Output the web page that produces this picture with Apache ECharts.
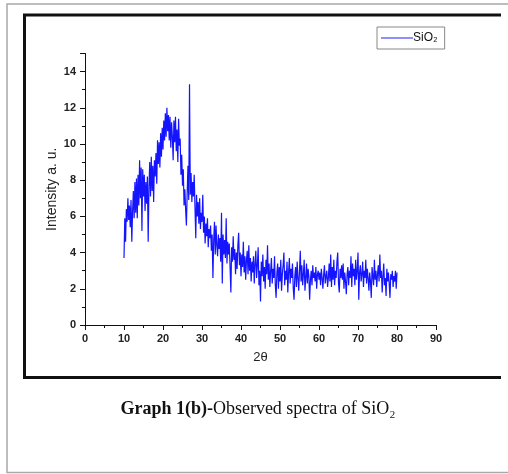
<!DOCTYPE html>
<html>
<head>
<meta charset="utf-8">
<script src="https://cdn.jsdelivr.net/npm/echarts@6/dist/echarts.min.js"></script>
<style>
  html, body { margin: 0; padding: 0; background: #fff; }
  #main { width: 508px; height: 474px; }
</style>
</head>
<body>
<div id="main"></div>
<script>
// scan grid: 2theta from 10 to 80, step 0.2
var angleStart = 10;
var angleStep = 0.2;

// intensity, 5 points per degree
var intensityRise = [ // 10.0 - 29.8
  3.7, 5.9, 4.6, 6.4, 5.7,  7.0, 5.8, 6.6, 5.4, 6.9,
  4.6, 6.3, 7.4, 5.9, 7.9,  6.2, 8.1, 5.9, 8.3, 6.6,
  9.1, 7.0, 8.7, 5.2, 8.6,  7.1, 8.3, 6.3, 7.9, 6.7,
  8.2, 4.6, 7.6, 9.0, 7.1,  9.3, 7.4, 8.8, 6.8, 9.1,
  8.2, 9.5, 7.8, 10.2, 8.9, 10.1, 8.7, 10.6, 9.3, 10.9,
  9.7, 11.3, 10.2, 11.7, 10.4, 12.0, 10.7, 11.6, 10.2, 11.5,
  9.8, 11.2, 10.4, 9.1, 11.3, 10.1, 11.5, 9.6, 10.8, 9.0,
  11.4, 9.9, 10.3, 8.3, 9.4, 7.7, 8.6, 6.6, 7.5, 6.4,
  5.5, 7.3, 8.8, 6.9, 13.3, 7.2, 8.4, 6.8, 7.9, 7.1,
  8.3, 6.5, 4.8, 7.2, 6.0,  6.8, 5.6, 7.0, 5.3, 6.2
];
var intensityFall = [ // 30.0 - 49.8
  5.7, 7.2, 5.1, 6.0, 4.5,  5.6, 4.9, 5.9, 4.3, 5.3,
  4.8, 5.5, 4.1, 5.0, 2.6,  4.7, 5.7, 3.9, 5.5, 4.4,
  3.8, 5.0, 4.2, 4.8, 3.5,  6.2, 2.3, 5.0, 3.9, 4.7,
  3.7, 5.9, 3.4, 4.6, 3.9,  4.5, 3.2, 1.8, 4.3, 3.5,
  4.9, 3.6, 4.2, 2.8, 4.0,  3.1, 4.4, 5.1, 3.3, 4.0,
  2.7, 3.9, 3.2, 4.6, 2.9,  3.8, 2.5, 3.6, 4.1, 2.8,
  4.4, 3.0, 3.7, 2.4, 3.5,  2.9, 3.8, 2.3, 3.4, 4.1,
  2.6, 3.3, 4.3, 2.2, 3.0,  1.3, 3.5, 2.7, 3.9, 2.4,
  3.2, 2.0, 3.6, 2.8, 4.4,  2.5, 3.4, 2.1, 3.0, 3.7,
  2.3, 3.1, 2.6, 3.8, 2.2,  1.5, 2.9, 3.4, 2.0, 3.2
];
var intensityTail = [ // 50.0 - 80.0
  2.4, 3.6, 1.9, 2.8, 3.3,  4.0, 2.2, 3.0, 2.5, 3.5,
  1.8, 2.9, 3.7, 2.3, 3.1,  2.6, 3.4, 2.0, 1.4, 2.7,
  3.2, 2.1, 3.5, 2.6, 1.9,  3.0, 4.1, 2.4, 3.3, 2.2,
  2.8, 3.6, 1.9, 2.6, 3.4,  2.3, 3.1, 2.7, 1.4, 2.5,
  3.0, 2.2, 3.3, 2.6, 2.9,  2.4, 3.2, 2.0, 2.8, 3.0,
  2.5, 2.9, 2.2, 3.1, 2.6,  2.0, 2.8, 3.3, 2.3, 2.7,
  3.0, 2.1, 2.6, 3.4, 2.4,  3.9, 2.1, 3.2, 2.5, 3.6,
  2.2, 3.0, 2.6, 3.5, 4.0,  2.3, 1.8, 3.1, 2.6, 3.3,
  2.5, 3.4, 2.0, 2.9, 2.4,  1.7, 2.8, 3.2, 2.2, 3.0,
  2.6, 3.8, 2.1, 3.4, 2.7,  3.1, 2.2, 3.6, 2.5, 3.0,
  4.0, 1.4, 2.9, 3.3, 2.4,  2.8, 3.5, 2.1, 3.0, 2.6,
  3.6, 2.3, 3.1, 2.6, 1.9,  2.9, 2.4, 1.5, 3.2, 2.7,
  2.2, 3.6, 2.5, 3.0, 2.1,  2.8, 3.3, 2.4, 3.9, 2.6,
  3.0, 1.8, 2.7, 3.4, 2.2,  2.6, 1.6, 3.1, 2.4, 2.9,
  2.3, 1.5, 2.8, 2.5, 3.0,  2.1, 2.7, 2.4, 3.0, 2.0,
  2.9
];

var xTicks = [0, 10, 20, 30, 40, 50, 60, 70, 80, 90];
var yTicks = [0, 2, 4, 6, 8, 10, 12, 14];
var seriesName = 'SiO₂';

var intensity = intensityRise.concat(intensityFall, intensityTail);
var points = [];
for (var i = 0; i < intensity.length; i++) {
  points.push([+(angleStart + i * angleStep).toFixed(1), intensity[i]]);
}

var sans = 'Liberation Sans, Arial, sans-serif';
var serif = 'Liberation Serif, Times New Roman, serif';
var labelFont = {
  fontFamily: sans,
  fontWeight: 'bold',
  fontSize: 11,
  color: '#222'
};

var option = {
  animation: false,
  backgroundColor: '#fff',
  grid: { left: 85, top: 53.5, width: 351, height: 271.5 },
  legend: {
    left: 377, top: 27,
    padding: [5, 7, 5, 4],
    borderColor: '#888', borderWidth: 1,
    itemWidth: 32, itemHeight: 2,
    icon: 'rect',
    textStyle: { fontFamily: sans, fontSize: 12, color: '#111', padding: [0, 0, 0, -5] },
    data: [{ name: seriesName, itemStyle: { color: '#8f8fff' } }]
  },
  xAxis: {
    type: 'value', min: xTicks[0], max: xTicks[xTicks.length - 1], interval: 10,
    name: '2θ', nameLocation: 'middle', nameGap: 26, nameMoveOverlap: false,
    nameTextStyle: { fontFamily: sans, fontSize: 13, color: '#222' },
    axisLine: { lineStyle: { color: '#111', width: 1 } },
    axisTick: { show: true, inside: false, length: 5, lineStyle: { color: '#111' } },
    minorTick: { show: true, splitNumber: 2, length: 3, lineStyle: { color: '#111' } },
    axisLabel: Object.assign({ margin: 8 }, labelFont),
    splitLine: { show: false }
  },
  yAxis: {
    type: 'value', min: 0, max: 15, interval: 2,
    name: 'Intensity a. u.', nameLocation: 'middle', nameGap: 26, nameMoveOverlap: false,
    nameTextStyle: { fontFamily: sans, fontSize: 14, color: '#222' },
    axisLine: { show: true, lineStyle: { color: '#111', width: 1 } },
    axisTick: { show: true, inside: false, length: 5, lineStyle: { color: '#111' } },
    minorTick: { show: true, splitNumber: 2, length: 3, lineStyle: { color: '#111' } },
    axisLabel: Object.assign({
      margin: 9,
      formatter: function (v) { return yTicks.indexOf(v) >= 0 ? String(v) : ''; }
    }, labelFont),
    splitLine: { show: false }
  },
  series: [{
    name: seriesName,
    type: 'line',
    data: points,
    showSymbol: false,
    symbol: 'none',
    lineStyle: { color: '#1414ff', width: 1.2 },
    itemStyle: { color: '#1414ff' }
  }],
  graphic: [
    {
      type: 'rect', silent: true,
      shape: { x: 7, y: 4, width: 520, height: 468.5 },
      style: { fill: null, stroke: '#a8a8a8', lineWidth: 1.5 }
    },
    {
      type: 'polyline', silent: true,
      shape: { points: [[501, 15], [24.5, 15], [24.5, 377.5], [501, 377.5]] },
      style: { fill: null, stroke: '#111', lineWidth: 3 }
    },
    {
      type: 'text', silent: true,
      x: 258, y: 409,
      style: {
        text: '{b|Graph 1(b)-}{n|Observed spectra of SiO₂}',
        align: 'center', verticalAlign: 'middle',
        rich: {
          b: { fontFamily: serif, fontWeight: 'bold', fontSize: 18, fill: '#111' },
          n: { fontFamily: serif, fontSize: 18, fill: '#111' }
        }
      }
    }
  ]
};

var myChart = echarts.init(document.getElementById('main'));
myChart.setOption(option);
</script>
</body>
</html>
